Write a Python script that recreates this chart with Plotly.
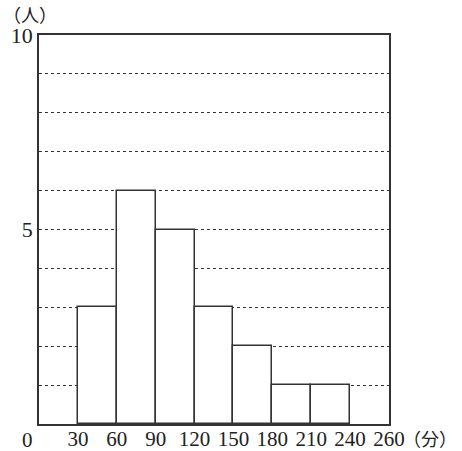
import plotly.graph_objects as go

# 階級（分）と度数（人）
bin_left = [30, 60, 90, 120, 150, 180, 210]
bin_width = 30
counts = [3, 6, 5, 3, 2, 1, 1]

x_tickvals = [30, 60, 90, 120, 150, 180, 210, 240, 270]
x_ticktext = ["30", "60", "90", "120", "150", "180", "210", "240", "260"]
y_tickvals = [1, 2, 3, 4, 5, 6, 7, 8, 9, 10]
y_ticktext = ["", "", "", "", "5", "", "", "", "", "10"]

font_family = "'Liberation Serif', 'Noto Sans CJK JP', serif"
line_color = "#333333"

centers = [b + bin_width / 2 for b in bin_left]

fig = go.Figure()
fig.add_trace(go.Bar(
    x=centers, y=counts, width=bin_width,
    marker=dict(color="white", line=dict(color=line_color, width=1.5)),
    hoverinfo="x+y",
))

fig.update_layout(
    width=462, height=451,
    margin=dict(l=39, r=73, t=35, b=27, autoexpand=False),
    paper_bgcolor="white", plot_bgcolor="white",
    showlegend=False,
    font=dict(family=font_family, size=22, color="#222222"),
    bargap=0,
)
fig.update_xaxes(
    range=[0, 270], tickvals=x_tickvals, ticktext=x_ticktext,
    showgrid=False, zeroline=False, ticks="", automargin=False,
    tickfont=dict(size=21), ticklabelstandoff=-5,
    showline=True, mirror=True, linecolor=line_color, linewidth=1.5,
)
fig.update_yaxes(
    range=[0, 10], tickvals=y_tickvals, ticktext=y_ticktext,
    showgrid=True, gridcolor=line_color, griddash="dot", gridwidth=1,
    zeroline=False, ticks="", automargin=False,
    showline=True, mirror=True, linecolor=line_color, linewidth=1.5,
)

# 原点の「0」と単位
fig.add_annotation(x=-0.034, y=-0.041, xref="paper", yref="paper", text="0",
                   showarrow=False, xanchor="center", yanchor="middle",
                   font=dict(size=21))
fig.add_annotation(x=1.034, y=-0.036, xref="paper", yref="paper", text="（分）",
                   showarrow=False, xanchor="left", yanchor="middle",
                   font=dict(family="Noto Sans CJK JP", size=18))
fig.add_annotation(x=-0.108, y=1.055, xref="paper", yref="paper", text="（人）",
                   showarrow=False, xanchor="left", yanchor="middle",
                   font=dict(family="Noto Sans CJK JP", size=18))

# ページ既定の余白を消して図を左上に合わせる
fig.write_html("out.html", config={"displayModeBar": False},
               post_script="document.body.style.margin='0px';")
